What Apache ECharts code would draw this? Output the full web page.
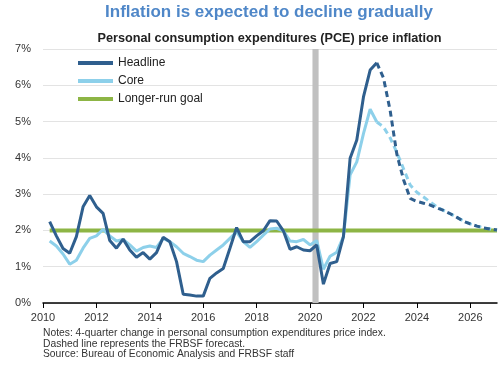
<!DOCTYPE html>
<html>
<head>
<meta charset="utf-8">
<script src="https://cdn.jsdelivr.net/npm/echarts@6/dist/echarts.min.js"></script>
<style>html,body{margin:0;padding:0;background:#fff}#c{width:500px;height:365px}</style>
</head>
<body>
<div id="c"></div>
<script>
// Quarterly x positions: Q1 of year Y plotted at Y+0.25
var histStart = 2010.25;
var headlineHist = [2.24,1.85,1.50,1.37,1.83,2.65,2.96,2.65,2.47,1.72,1.51,1.76,1.46,1.26,1.39,1.21,1.39,1.81,1.69,1.14,0.24,0.22,0.19,0.19,0.68,0.83,0.95,1.51,2.08,1.69,1.69,1.85,1.99,2.27,2.26,1.99,1.48,1.55,1.46,1.44,1.60,0.52,1.09,1.14,1.83,3.99,4.49,5.68,6.42,6.62];
var coreHist = [1.71,1.57,1.35,1.07,1.18,1.51,1.78,1.85,2.03,1.85,1.71,1.75,1.60,1.43,1.53,1.57,1.53,1.78,1.69,1.55,1.37,1.28,1.18,1.14,1.32,1.46,1.60,1.78,1.96,1.69,1.53,1.69,1.87,2.04,2.06,1.99,1.71,1.69,1.75,1.60,1.72,0.93,1.29,1.40,1.83,3.53,3.89,4.67,5.34,4.99];
// Forecast from 2022 Q2 (2022.5) onward
var fcStart = 2022.5;
var headlineFc = [6.62,6.20,5.30,4.10,3.40,2.88,2.80,2.75,2.70,2.62,2.55,2.46,2.36,2.25,2.18,2.12,2.07,2.04,2.01];
var coreFc = [4.99,4.85,4.55,4.15,3.70,3.25,3.05,2.92,2.78,2.65,2.55,2.46,2.36,2.26,2.18,2.12,2.07,2.04,2.01];
var goal = [[2010.25,2],[2027,2]];
var recession = [2020.09, 2020.32];
var xTicks = [2010,2012,2014,2016,2018,2020,2022,2024,2026];

function toPairs(start, arr){ return arr.map(function(v,i){ return [start + i*0.25, v]; }); }

var FONT = 'Liberation Sans, Arial, sans-serif';
var cHead = '#2f5f8e', cCore = '#8dd0ea', cGoal = '#8db545';

var chart = echarts.init(document.getElementById('c'), null, {renderer:'canvas'});
chart.setOption({
  animation:false,
  backgroundColor:'#fff',
  textStyle:{fontFamily:FONT},
  grid:{left:43, right:3, top:49, bottom:62, containLabel:false},
  graphic:[
    {type:'text', x:269, y:12, style:{text:'Inflation is expected to decline gradually', font:'bold 17px '+FONT, fill:'#4f87c8', textAlign:'center', textVerticalAlign:'middle'}},
    {type:'text', x:269.5, y:38, style:{text:'Personal consumption expenditures (PCE) price inflation', font:'bold 12.7px '+FONT, fill:'#222', textAlign:'center', textVerticalAlign:'middle'}},
    {type:'text', x:43, y:328, style:{text:'Notes: 4-quarter change in personal consumption expenditures price index.\nDashed line represents the FRBSF forecast.\nSource: Bureau of Economic Analysis and FRBSF staff', font:'10.3px '+FONT, fill:'#333', lineHeight:10.5, textAlign:'left', textVerticalAlign:'top'}}
  ],
  legend:{
    orient:'vertical', left:73, top:52, itemWidth:35, itemHeight:4, itemGap:6, itemTextGap:8,
    icon:'rect',
    textStyle:{fontSize:12, color:'#222', fontFamily:FONT},
    data:['Headline','Core','Longer-run goal']
  },
  xAxis:{
    type:'value', min:2010, max:2027, interval:2,
    axisLine:{show:true, onZero:false, lineStyle:{color:'#000', width:1.5}},
    axisTick:{show:true, length:5, lineStyle:{color:'#000', width:1}, customValues:xTicks},
    axisLabel:{color:'#333', fontSize:11, margin:9, fontFamily:FONT, customValues:xTicks,
               formatter:function(v){ return String(v); }},
    splitLine:{show:false}
  },
  yAxis:{
    type:'value', min:0, max:7, interval:1,
    axisLine:{show:false}, axisTick:{show:false},
    axisLabel:{formatter:'{value}%', color:'#333', fontSize:11, margin:12, fontFamily:FONT},
    splitLine:{show:true, lineStyle:{color:'#e3e3e3', width:1}}
  },
  series:[
    {name:'recession', type:'line', data:[], z:1, silent:true,
     markArea:{silent:true, itemStyle:{color:'#c0c0c0'}, data:[[{xAxis:recession[0]},{xAxis:recession[1]}]]}},
    {name:'Longer-run goal', type:'line', data:goal, symbol:'none', z:2,
     lineStyle:{color:cGoal, width:4}, itemStyle:{color:cGoal}},
    {name:'Core', type:'line', data:toPairs(histStart, coreHist), symbol:'none', z:3,
     lineStyle:{color:cCore, width:3}, itemStyle:{color:cCore}},
    {name:'Core forecast', type:'line', data:toPairs(fcStart, coreFc), symbol:'none', z:3,
     lineStyle:{color:cCore, width:3, type:[6,4]}, itemStyle:{color:cCore}},
    {name:'Headline', type:'line', data:toPairs(histStart, headlineHist), symbol:'none', z:4,
     lineStyle:{color:cHead, width:3}, itemStyle:{color:cHead}},
    {name:'Headline forecast', type:'line', data:toPairs(fcStart, headlineFc), symbol:'none', z:4,
     lineStyle:{color:cHead, width:3, type:[6,4]}, itemStyle:{color:cHead}}
  ]
});
</script>
</body>
</html>
